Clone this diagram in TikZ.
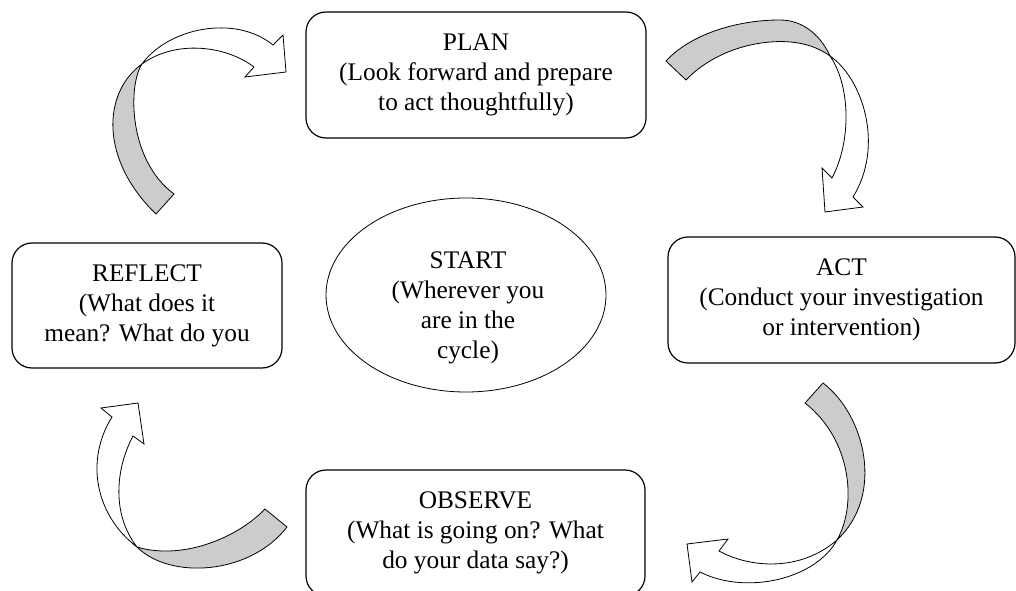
\documentclass[tikz,border=0pt]{standalone}
\usepackage{fontspec}
\setmainfont{Liberation Serif}
\usetikzlibrary{shapes.geometric}
\begin{document}
\begin{tikzpicture}[x=0.75pt,y=-0.75pt,
  stagebox/.style={draw=black, line width=0.9pt, rounded corners=15pt, align=center,
    font=\fontsize{19}{22.5}\selectfont, inner sep=0pt},
  cycletext/.style={align=center, font=\fontsize{19}{22.5}\selectfont, inner sep=0pt},
  backband/.style={draw=black, line width=0.6pt, fill=black!20, line join=round},
  frontband/.style={draw=black, line width=0.6pt, fill=white, line join=miter}]
\useasboundingbox (0,0) rectangle (1016,591);
\clip (0,0) rectangle (1016,591);

% top-left curved arrow
\path[backband] (156,214) .. controls (100,160) and (102,93) .. (142,64)
  .. controls (128,85) and (128,160) .. (174,194) -- cycle;
\path[frontband] (142,64) .. controls (168,28) and (235,14) .. (273,45) -- (283,35) -- (286,72)
  -- (245,77) -- (254,67) .. controls (225,45) and (175,40) .. (142,64) -- cycle;

% top-right curved arrow
\path[backband] (666,61) .. controls (690,35) and (735,20) .. (780,20)
  .. controls (805,20) and (822,38) .. (830,56)
  .. controls (815,45) and (795,40) .. (770,42)
  .. controls (735,45) and (705,60) .. (686,80) -- cycle;
\path[frontband] (830,56) .. controls (862,78) and (885,145) .. (853,197) -- (863,207) -- (825,212)
  -- (822,168) -- (832,178) .. controls (852,140) and (850,85) .. (830,56) -- cycle;

% bottom-right curved arrow
\path[backband] (823,383) .. controls (865,415) and (885,495) .. (837,540)
  .. controls (857,505) and (852,440) .. (805,403) -- cycle;
\path[frontband] (837,540) .. controls (815,580) and (745,595) .. (700,572) -- (692,582) -- (687,544)
  -- (728,539) -- (719,551) .. controls (750,568) and (800,572) .. (837,540) -- cycle;

% bottom-left curved arrow
\path[backband] (287,527) .. controls (250,575) and (170,580) .. (137,547)
  .. controls (180,560) and (235,540) .. (265,509) -- cycle;
\path[frontband] (137,547) .. controls (95,515) and (85,460) .. (112,417) -- (101,408) -- (138,403)
  -- (144,444) -- (133,436) .. controls (115,470) and (112,515) .. (137,547) -- cycle;

% stages
\node[stagebox, minimum width=255pt, minimum height=94.5pt] (plan) at (476,75)
  {PLAN\\(Look forward and prepare\\to act thoughtfully)};
\node[stagebox, minimum width=260.25pt, minimum height=94.5pt] (act) at (841.5,300)
  {ACT\\(Conduct your investigation\\or intervention)};
\node[stagebox, minimum width=254.25pt, minimum height=94.5pt] (observe) at (475.5,533)
  {OBSERVE\\(What is going on? What\\do your data say?)};
\node[stagebox, minimum width=202.5pt, minimum height=93.75pt] (reflect) at (147,305.5)
  {REFLECT\\(What does it\\mean? What do you};
\node[draw, ellipse, line width=0.6pt, minimum width=210pt, minimum height=145.5pt, inner sep=0pt]
  (start) at (466,295) {};
\node[cycletext] (starttext) at (468,308) {START\\(Wherever you\\are in the\\cycle)};
\end{tikzpicture}
\end{document}
